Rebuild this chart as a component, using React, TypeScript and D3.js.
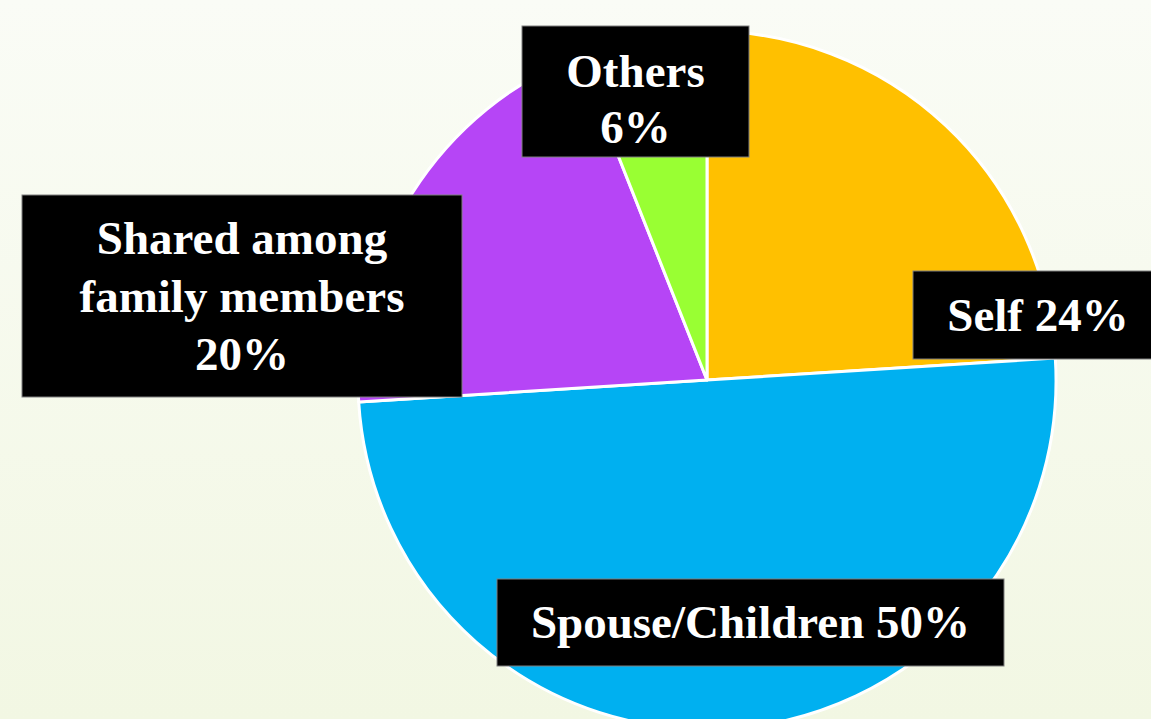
import React from "react";
import * as d3 from "d3";

const categories = ["Self", "Spouse/Children", "Shared among family members", "Others"];
const values = [24, 50, 20, 6];
const colors = ["#FFC000", "#00B0F0", "#B645F6", "#99FF33"];

// label boxes (layout): x, y, w, h, text centre x, first baseline, line spacing
const labelLayout = [
  { x: 913, y: 271, w: 250, h: 88, tx: 1038, b: 331, lh: 58, lines: ["Self 24%"] },
  { x: 497, y: 579, w: 507, h: 87, tx: 750.5, b: 638, lh: 58, lines: ["Spouse/Children 50%"] },
  { x: 22, y: 195, w: 440, h: 202, tx: 242, b: 254, lh: 58, lines: ["Shared among", "family members", "20%"] },
  { x: 522, y: 26, w: 227, h: 131, tx: 635.5, b: 87, lh: 56, lines: ["Others", "6%"] },
];

const W = 1151;
const H = 719;
const CX = 707;
const CY = 380;
const R = 349;

export default function App() {
  const pie = d3.pie<number>().sort(null).value((d) => d);
  const arcs = pie(values);
  const arcGen = d3.arc<d3.PieArcDatum<number>>().innerRadius(0).outerRadius(R);
  const fontSize = 47;

  return (
    <div style={{ position: "fixed", left: 0, top: 0, width: W, height: H, overflow: "hidden" }}>
      <svg width={W} height={H} style={{ display: "block" }}>
        <defs>
          <linearGradient id="bg" x1="0" y1="0" x2="0" y2="1">
            <stop offset="0%" stopColor="#FAFCF6" />
            <stop offset="100%" stopColor="#F2F7E3" />
          </linearGradient>
        </defs>
        <rect x={0} y={0} width={W} height={H} fill="url(#bg)" />
        <g transform={`translate(${CX},${CY})`}>
          {arcs.map((a, i) => (
            <path key={categories[i]} d={arcGen(a) || ""} fill={colors[i]} stroke="#FFFFFF" strokeWidth={3} strokeLinejoin="round" />
          ))}
        </g>
        {labelLayout.map((l, i) => (
          <g key={i}>
            <rect x={l.x} y={l.y} width={l.w} height={l.h} fill="#000000" stroke="#7F7F7F" strokeWidth={1} />
            <text
              fontFamily="'Liberation Serif', 'Times New Roman', serif"
              fontWeight="bold"
              fontSize={fontSize}
              fill="#FFFFFF"
              textAnchor="middle"
            >
              {l.lines.map((t, j) => (
                <tspan key={j} x={l.tx} y={l.b + j * l.lh}>
                  {t}
                </tspan>
              ))}
            </text>
          </g>
        ))}
      </svg>
    </div>
  );
}
